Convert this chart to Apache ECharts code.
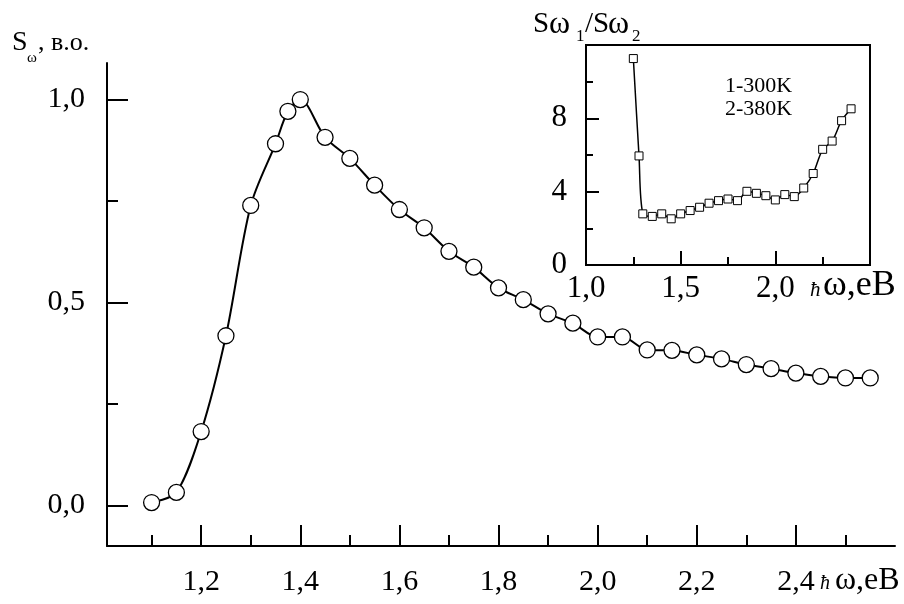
<!DOCTYPE html>
<html>
<head>
<meta charset="UTF-8" />
<title>S_ω</title>
<script src="https://cdn.jsdelivr.net/npm/echarts@6/dist/echarts.min.js"></script>
</head>
<body style="margin:0">
<div id="chart" style="width:904px;height:604px"></div>
<script>
// main curve, eV / relative units
var energy = [1.1, 1.15, 1.2, 1.25, 1.3, 1.35, 1.375, 1.4, 1.45, 1.5, 1.55, 1.6, 1.65, 1.7, 1.75, 1.8,
  1.85, 1.9, 1.95, 2.0, 2.05, 2.1, 2.15, 2.2, 2.25, 2.3, 2.35, 2.4, 2.45, 2.5, 2.55];
var signal = [0.007, 0.032, 0.182, 0.418, 0.739, 0.891, 0.971, 1.0, 0.907, 0.855, 0.789, 0.729, 0.684, 0.626, 0.587, 0.536,
  0.507, 0.472, 0.449, 0.415, 0.415, 0.383, 0.382, 0.371, 0.361, 0.347, 0.337, 0.326, 0.318, 0.314, 0.314];
// inset: ratio S1/S2
var ratioEnergy = [1.25, 1.28, 1.3, 1.35, 1.4, 1.45, 1.5, 1.55, 1.6, 1.65, 1.7, 1.75, 1.8, 1.85, 1.9, 1.95,
  2.0, 2.05, 2.1, 2.15, 2.2, 2.25, 2.3, 2.35, 2.4];
var ratio = [11.26, 5.95, 2.79, 2.65, 2.79, 2.52, 2.79, 2.97, 3.15, 3.37, 3.51, 3.6, 3.51, 4.02, 3.91, 3.78,
  3.55, 3.84, 3.73, 4.2, 4.99, 6.31, 6.76, 7.87, 8.52];
// ticks
var xMajor = [1.2, 1.4, 1.6, 1.8, 2.0, 2.2, 2.4];
var xMinor = [1.1, 1.3, 1.5, 1.7, 1.9, 2.1, 2.3, 2.5];
var yMajor = [0, 0.5, 1.0];
var yMinor = [0.25, 0.75];
var insetXMajor = [1.0, 1.5, 2.0];
var insetXMinor = [1.25, 1.75, 2.25];
var insetYMajor = [0, 4, 8];
var insetYMinor = [2, 6, 10];
var legendLines = ["1-300K", "2-380K"];

var serif = "Liberation Serif";

function comma(v) {
  return v.toFixed(1).replace(".", ",");
}

function makeAxis(o) {
  return {
    type: "value",
    gridIndex: o.grid,
    position: o.pos,
    min: o.min,
    max: o.max,
    splitLine: { show: false },
    axisLine: { show: o.line, onZero: false, lineStyle: { color: "#000", width: 2 } },
    axisTick: {
      show: true,
      inside: true,
      length: o.len,
      customValues: o.ticks,
      lineStyle: { color: "#000", width: 2 }
    },
    axisLabel: {
      show: !!o.labels,
      customValues: o.labels || o.ticks,
      margin: o.margin,
      color: "#000",
      fontFamily: serif,
      fontSize: o.size,
      formatter: o.fmt
    }
  };
}

function txt(s, x, y, size, italic) {
  return {
    type: "text",
    x: x,
    y: y,
    style: {
      text: s,
      fill: "#000",
      font: (italic ? "italic " : "") + size + "px '" + serif + "'",
      verticalAlign: "middle",
      align: "left"
    }
  };
}

var mainPoints = energy.map(function (e, i) { return [e, signal[i]]; });
var insetPoints = ratioEnergy.map(function (e, i) { return [e, ratio[i]]; });

var chart = echarts.init(document.getElementById("chart"));
chart.setOption({
  animation: false,
  backgroundColor: "#fff",
  grid: [
    { left: 107, right: 9, top: 63, bottom: 58 },
    { left: 586, top: 45, width: 284, height: 220, show: true, borderColor: "#000", borderWidth: 2, backgroundColor: "transparent" }
  ],
  xAxis: [
    makeAxis({ grid: 0, pos: "bottom", min: 1.01, max: 2.6, line: true, len: 21, ticks: xMajor, labels: xMajor, margin: 21, size: 30, fmt: comma }),
    makeAxis({ grid: 0, pos: "bottom", min: 1.01, max: 2.6, line: false, len: 11, ticks: xMinor }),
    makeAxis({ grid: 1, pos: "bottom", min: 1.0, max: 2.5, line: true, len: 14, ticks: insetXMajor, labels: insetXMajor, margin: 8, size: 31, fmt: comma }),
    makeAxis({ grid: 1, pos: "bottom", min: 1.0, max: 2.5, line: false, len: 8, ticks: insetXMinor })
  ],
  yAxis: [
    makeAxis({ grid: 0, pos: "left", min: -0.1, max: 1.09, line: true, len: 21, ticks: yMajor, labels: yMajor, margin: 22, size: 30, fmt: comma }),
    makeAxis({ grid: 0, pos: "left", min: -0.1, max: 1.09, line: false, len: 11, ticks: yMinor }),
    makeAxis({ grid: 1, pos: "left", min: 0, max: 12, line: true, len: 13, ticks: insetYMajor, labels: insetYMajor, margin: 19, size: 31, fmt: function (v) { return String(v); } }),
    makeAxis({ grid: 1, pos: "left", min: 0, max: 12, line: false, len: 7, ticks: insetYMinor })
  ],
  series: [
    {
      type: "line",
      xAxisIndex: 0,
      yAxisIndex: 0,
      data: mainPoints,
      smooth: 0.3,
      symbol: "circle",
      symbolSize: 16,
      lineStyle: { color: "#000", width: 2 },
      itemStyle: { color: "#fff", borderColor: "#000", borderWidth: 1.3 }
    },
    {
      type: "line",
      xAxisIndex: 2,
      yAxisIndex: 2,
      data: insetPoints,
      smooth: 0.3,
      symbol: "rect",
      symbolSize: 8,
      lineStyle: { color: "#000", width: 1.5 },
      itemStyle: { color: "#fff", borderColor: "#000", borderWidth: 1 }
    }
  ],
  graphic: [
    // main y name
    txt("S", 12, 43, 28),
    txt("ω", 27, 58, 15),
    txt(", в.о.", 38, 43, 26),
    // inset title
    txt("S", 533, 24, 29),
    txt("ω", 549, 25, 32),
    txt("1", 576, 37, 17),
    txt("/S", 585, 24, 29),
    txt("ω", 608, 25, 32),
    txt("2", 632, 37, 17),
    // x names
    txt("ħ", 820, 584, 20, true),
    txt("ω,eB", 835, 581, 32),
    txt("ħ", 810, 290, 21, true),
    txt("ω,eB", 823, 286, 36),
    // inset legend
    txt(legendLines[0], 725, 86, 22),
    txt(legendLines[1], 725, 109, 22)
  ]
});
</script>
</body>
</html>
